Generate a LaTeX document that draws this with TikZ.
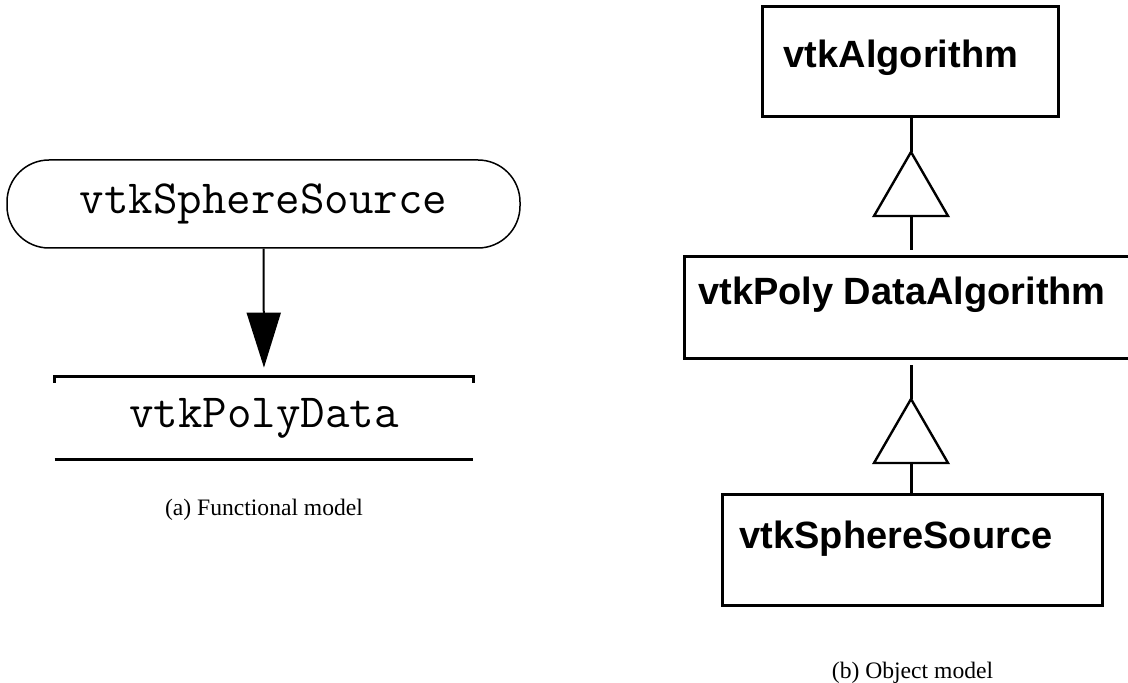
\documentclass[tikz,border=0pt]{standalone}
\usepackage{fontspec}
\setmainfont{Liberation Serif}
\newfontfamily\umlsans{Liberation Sans}
\usetikzlibrary{arrows.meta,positioning,calc}

\begin{document}
\begin{tikzpicture}[x=0.5pt,y=-0.5pt,
  funcfont/.style={font=\ttfamily\fontsize{23.8}{27}\selectfont},
  umlfont/.style={font=\umlsans\bfseries\fontsize{19}{22}\selectfont},
  capfont/.style={font=\fontsize{11.8}{14}\selectfont},
  umlbox/.style={draw,line width=1.5pt,inner sep=0pt},
  stem/.style={line width=1.5pt},
  generalize/.style={line width=1.2pt,line join=miter}]
  \useasboundingbox (0,0) rectangle (1128,683);

  % (a) functional model
  \node[funcfont,draw,line width=0.75pt,rounded corners=21pt,minimum width=256.5pt,minimum height=44pt,inner sep=0pt] (srcfn) at (263.5,204) {vtkSphereSource};
  \node[funcfont,minimum width=209pt,minimum height=41pt,inner sep=0pt] (polydata) at (264,418) {vtkPolyData};
  \draw[line width=1.8pt] ([yshift=-3pt]polydata.north west) -- (polydata.north west) -- (polydata.north east) -- ([yshift=-3pt]polydata.north east);
  \draw[line width=1.8pt] (polydata.south west) -- (polydata.south east);
  \draw[line width=1pt,-{Triangle[length=27.5pt,width=17pt]},shorten >=4.5pt] (srcfn.south) -- (polydata.north);
  \node[capfont,anchor=base] (capa) at (264,515) {(a) Functional model};

  % (b) object model
  \node[umlbox,minimum width=148pt,minimum height=55pt] (algo) at (910,62) {};
  \node[umlfont,anchor=base] (algotxt) at (901,68) {vtkAlgorithm};
  \node[minimum width=221.5pt,minimum height=50.5pt,inner sep=0pt] (pda) at (906.5,307.5) {};
  \draw[stem] (pda.north east) -- (pda.north west) -- (pda.south west) -- (pda.south east);
  \node[umlfont,anchor=base] (pdatxt) at (902,305) {vtkPoly DataAlgorithm};
  \node[umlbox,minimum width=190pt,minimum height=55.5pt] (sph) at (912,549.5) {};
  \node[umlfont,anchor=base] (sphtxt) at (896,548) {vtkSphereSource};

  % generalization triangles
  \foreach \sub/\super/\top/\gapup/\gapdn in {pda/algo/152/0pt/3.5pt, sph/pda/399/3.5pt/0pt}{
    \coordinate (apex) at (911,\top);
    \coordinate (base) at (911,\top+64);
    \draw[generalize] (apex) -- ++(37,64) -- ++(-74,0) -- cycle;
    \draw[stem,shorten <=\gapup] (\super.south -| apex) -- (apex);
    \draw[stem,shorten >=\gapdn] (base) -- (\sub.north -| base);
  }
  \node[capfont,anchor=base] (capb) at (912.5,678) {(b) Object model};
\end{tikzpicture}
\end{document}
